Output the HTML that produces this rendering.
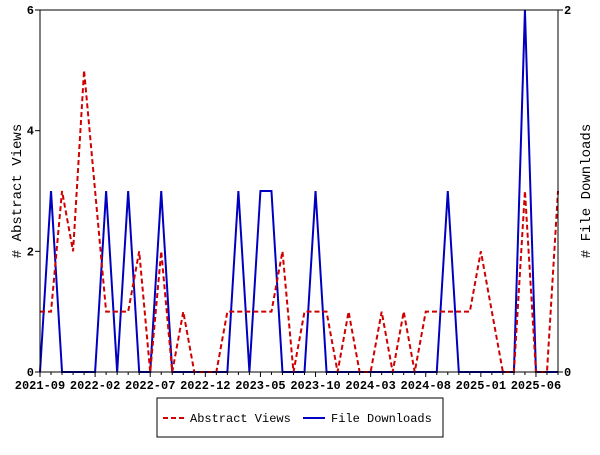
<!DOCTYPE html>
<html><head><meta charset="utf-8"><style>
html,body{margin:0;padding:0;background:#fff;}
svg text{font-family:"Liberation Mono","DejaVu Sans Mono",monospace;font-weight:bold;font-size:12px;fill:#000;}
</style></head><body>
<svg id="chart" width="600" height="450" xmlns="http://www.w3.org/2000/svg">
<rect x="0" y="0" width="600" height="450" fill="#fff"/>
<g id="grid"></g>
<g id="series"></g>
<rect x="40" y="10" width="518" height="362" fill="none" stroke="#000" stroke-width="1"/>
<g id="axes"></g>
<text transform="translate(21,191) rotate(-90)" text-anchor="middle" style="font-size:14px;font-weight:normal">&#35; Abstract Views</text>
<text transform="translate(590,191) rotate(-90)" text-anchor="middle" style="font-size:14px;font-weight:normal">&#35; File Downloads</text>
<g>
<rect x="157" y="398" width="286" height="39" fill="#fff" stroke="#000"/>
<line x1="163" y1="418" x2="184" y2="418" stroke="#d00000" stroke-width="2" stroke-dasharray="5,3"/>
<text x="190" y="422" style="font-weight:normal">Abstract Views</text>
<line x1="303" y1="418" x2="325" y2="418" stroke="#0000c0" stroke-width="2"/>
<text x="331" y="422" style="font-weight:normal">File Downloads</text>
</g>
</svg>
<script>
const views = [1,1,3,2,5,3,1,1,1,2,0,2,0,1,0,0,0,1,1,1,1,1,2,0,1,1,1,0,1,0,0,1,0,1,0,1,1,1,1,1,2,1,0,0,3,0,0,3];
const downloads = [0,1,0,0,0,0,1,0,1,0,0,1,0,0,0,0,0,0,1,0,1,1,0,0,0,1,0,0,0,0,0,0,0,0,0,0,0,1,0,0,0,0,0,0,2,0,0,0];
const xTickLabels = ["2021-09","2022-02","2022-07","2022-12","2023-05","2023-10","2024-03","2024-08","2025-01","2025-06"];
const leftTicks = [0,2,4,6];
const rightTicks = [0,2];
const X0=40,X1=558,Y0=372,Y1=10;
const n = views.length;
const xs = i => X0 + i*(X1-X0)/(n-1);
const yL = v => Y0 - v*(Y0-Y1)/6;
const yR = v => Y0 - v*(Y0-Y1)/2;
const NS="http://www.w3.org/2000/svg";
const axes=document.getElementById('axes'), ser=document.getElementById('series');
function mk(t,a,p){const e=document.createElementNS(NS,t);for(const k in a)e.setAttribute(k,a[k]);p.appendChild(e);return e;}
for(let i=0;i<n;i++){
  const t=mk('line',{x1:xs(i),x2:xs(i),y1:372,y2:(i%5===0)?377:375,stroke:'#000'},axes);
  
  
}
xTickLabels.forEach((s,k)=>{
  const t=mk('text',{x:xs(k*5),y:389,'text-anchor':'middle'},axes);t.textContent=s;
  
  
});
leftTicks.forEach(v=>{
  const l=mk('line',{x1:35,x2:40,y1:yL(v),y2:yL(v),stroke:'#000'},axes);
  
  
  const t=mk('text',{x:34,y:yL(v)+4,'text-anchor':'end'},axes);t.textContent=v;
  
  
});
rightTicks.forEach(v=>{
  const l=mk('line',{x1:558,x2:563,y1:yR(v),y2:yR(v),stroke:'#000'},axes);
  
  
  const t=mk('text',{x:564,y:yR(v)+4,'text-anchor':'start'},axes);t.textContent=v;
  
  
});
const pd=downloads.map((v,i)=>xs(i)+','+yR(v)).join(' ');
const dl=mk('polyline',{points:pd,fill:'none',stroke:'#0000c0','stroke-width':2},ser);


const pv=views.map((v,i)=>xs(i)+','+yL(v)).join(' ');
const vl=mk('polyline',{points:pv,fill:'none',stroke:'#d00000','stroke-width':2,'stroke-dasharray':'5,3'},ser);


</script>
</body></html>
